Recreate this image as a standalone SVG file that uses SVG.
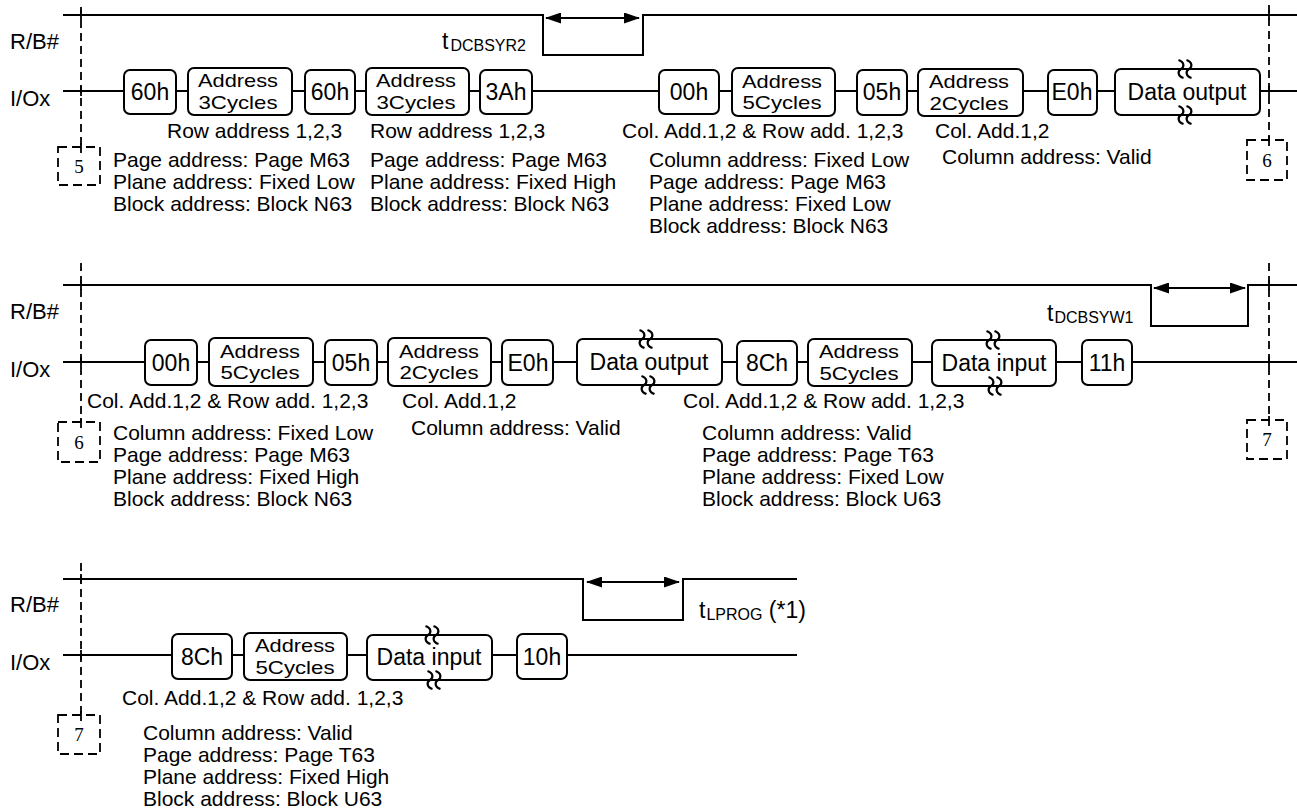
<svg xmlns="http://www.w3.org/2000/svg" xmlns:xlink="http://www.w3.org/1999/xlink" width="1297" height="812" viewBox="0 0 1297 812">
<style>
.ln{stroke:#000;stroke-width:2;fill:none}
.bx{fill:#fff;stroke:#000;stroke-width:2}
.dash{stroke:#000;stroke-width:1.8;stroke-dasharray:8 5;fill:none}
.tick{stroke:#000;stroke-width:1.8}
.dbox{fill:none;stroke:#000;stroke-width:1.8;stroke-dasharray:9 5}
text{font-family:"Liberation Sans",Arial,sans-serif;fill:#000}
.d{font-size:21px}
.b{font-size:23px;text-anchor:middle}
.b2{font-size:19px;text-anchor:middle}
.lab{font-size:22px}
.num{font-family:"Liberation Serif","Times New Roman",serif;font-size:19px;text-anchor:middle}
.sub{font-size:16px}
.big{font-size:23px}
.arr{stroke:#000;stroke-width:2.2;fill:none;marker-start:url(#ah);marker-end:url(#ah)}
</style>
<defs>
<marker id="ah" viewBox="0 0 16 11" refX="15" refY="5.5" markerWidth="16" markerHeight="11" orient="auto-start-reverse" markerUnits="userSpaceOnUse"><path d="M0,0 L16,5.5 L0,11 z" fill="#000"/></marker>
<path id="brk" d="M-6.5,-9 C-0.5,-7 -0.5,-2 -4,0 C-7.5,2 -7.5,7 -1.5,9 M1.5,-9 C7.5,-7 7.5,-2 4,0 C0.5,2 0.5,7 6.5,9" fill="none" stroke="#000" stroke-width="2.2"/>
</defs>

<!-- signal labels -->
<g id="labels">
<text class="lab" x="10" y="49">R/B#</text>
<text class="lab" x="10" y="106">I/Ox</text>
<text class="lab" x="10" y="319">R/B#</text>
<text class="lab" x="10" y="377">I/Ox</text>
<text class="lab" x="10" y="612">R/B#</text>
<text class="lab" x="10" y="670">I/Ox</text>
</g>

<!-- connectors / waveforms -->
<g id="connectors">
<path class="ln" d="M63,15 H543 V55 H643 V15 H1297"/>
<path class="ln" d="M63,91 H1297"/>
<path class="arr" d="M546,18 H639"/>
<path class="ln" d="M63,285 H1151 V326 H1248 V285 H1297"/>
<path class="ln" d="M63,362 H1297"/>
<path class="arr" d="M1154,288 H1245"/>
<path class="ln" d="M63,579 H583 V620 H683 V579 H797"/>
<path class="ln" d="M63,655 H797"/>
<path class="arr" d="M587,582 H679"/>
<!-- dashed markers -->
<path class="dash" d="M81,7 V147"/>
<path class="dash" d="M1269,5 V140"/>
<path class="dash" d="M81,263 V422"/>
<path class="dash" d="M1269,263 V420"/>
<path class="dash" d="M81,563 V715"/>
<path class="tick" d="M81,10 V20 M81,86 V96 M81,143 V153 M1269,10 V20 M1269,86 V96 M1269,136 V146 M81,280 V290 M81,357 V367 M81,418 V428 M1269,280 V290 M1269,357 V367 M1269,416 V426 M81,574 V584 M81,650 V660 M81,711 V721"/>
</g>

<g id="timing-labels">
<text class="big" x="442" y="49">t<tspan class="sub" dx="2" dy="2">DCBSYR2</tspan></text>
<text class="big" x="1047" y="321">t<tspan class="sub" dx="1" dy="2">DCBSYW1</tspan></text>
<text class="big" x="699" y="618">t<tspan class="sub" dx="1" dy="2">LPROG</tspan><tspan dy="-2"> (*1)</tspan></text>
</g>

<!-- off-page connectors -->
<g id="ref5"><rect class="dbox" x="58" y="147" width="42" height="38"/><text class="num" x="79" y="173">5</text></g>
<g id="ref6a"><rect class="dbox" x="1247" y="140" width="40" height="40"/><text class="num" x="1267" y="167">6</text></g>
<g id="ref6b"><rect class="dbox" x="58" y="422" width="42" height="40"/><text class="num" x="79" y="449">6</text></g>
<g id="ref7a"><rect class="dbox" x="1247" y="420" width="40" height="39"/><text class="num" x="1267" y="446">7</text></g>
<g id="ref7b"><rect class="dbox" x="58" y="715" width="42" height="39"/><text class="num" x="79" y="741">7</text></g>

<!-- Row 1 -->
<g id="r1-60h-a"><rect class="bx" x="124" y="70" width="52" height="44" rx="6"/><text class="b" x="150" y="100">60h</text></g>
<g id="r1-addr3-a"><rect class="bx" x="188" y="68" width="104" height="47" rx="6"/><text class="b2" x="238" y="87" textLength="80" lengthAdjust="spacingAndGlyphs">Address</text><text class="b2" x="238" y="108.5" textLength="79" lengthAdjust="spacingAndGlyphs">3Cycles</text></g>
<g id="r1-60h-b"><rect class="bx" x="305" y="70" width="50" height="44" rx="6"/><text class="b" x="330" y="100">60h</text></g>
<g id="r1-addr3-b"><rect class="bx" x="366" y="68" width="103" height="47" rx="6"/><text class="b2" x="416" y="87" textLength="80" lengthAdjust="spacingAndGlyphs">Address</text><text class="b2" x="416" y="108.5" textLength="79" lengthAdjust="spacingAndGlyphs">3Cycles</text></g>
<g id="r1-3Ah"><rect class="bx" x="480" y="70" width="52" height="44" rx="6"/><text class="b" x="506" y="100">3Ah</text></g>
<g id="r1-00h"><rect class="bx" x="659" y="70" width="60" height="44" rx="6"/><text class="b" x="689" y="100">00h</text></g>
<g id="r1-addr5"><rect class="bx" x="732" y="68" width="103" height="48" rx="6"/><text class="b2" x="782" y="87.5" textLength="80" lengthAdjust="spacingAndGlyphs">Address</text><text class="b2" x="782" y="109" textLength="79" lengthAdjust="spacingAndGlyphs">5Cycles</text></g>
<g id="r1-05h"><rect class="bx" x="857" y="70" width="50" height="45" rx="6"/><text class="b" x="882" y="100">05h</text></g>
<g id="r1-addr2"><rect class="bx" x="918" y="69" width="105" height="47" rx="6"/><text class="b2" x="969" y="88" textLength="80" lengthAdjust="spacingAndGlyphs">Address</text><text class="b2" x="969" y="109.5" textLength="79" lengthAdjust="spacingAndGlyphs">2Cycles</text></g>
<g id="r1-E0h"><rect class="bx" x="1048" y="70" width="49" height="45" rx="6"/><text class="b" x="1072" y="100">E0h</text></g>
<g id="r1-dout"><rect class="bx" x="1115" y="69" width="145" height="46" rx="6"/><text class="b" x="1187" y="100">Data output</text><use xlink:href="#brk" x="1185" y="69"/><use xlink:href="#brk" x="1185" y="115"/></g>

<g id="r1-text">
<text class="d" x="167" y="138">Row address 1,2,3</text>
<text class="d" x="370" y="138">Row address 1,2,3</text>
<text class="d" x="622" y="138">Col. Add.1,2 &amp; Row add. 1,2,3</text>
<text class="d" x="935" y="138">Col. Add.1,2</text>
<text class="d" x="942" y="164">Column address: Valid</text>
<text class="d" x="113" y="167">Page address: Page M63</text>
<text class="d" x="113" y="189">Plane address: Fixed Low</text>
<text class="d" x="113" y="211">Block address: Block N63</text>
<text class="d" x="370" y="167">Page address: Page M63</text>
<text class="d" x="370" y="189">Plane address: Fixed High</text>
<text class="d" x="370" y="211">Block address: Block N63</text>
<text class="d" x="649" y="167">Column address: Fixed Low</text>
<text class="d" x="649" y="189">Page address: Page M63</text>
<text class="d" x="649" y="211">Plane address: Fixed Low</text>
<text class="d" x="649" y="233">Block address: Block N63</text>
</g>

<!-- Row 2 -->
<g id="r2-00h"><rect class="bx" x="145" y="340" width="52" height="45" rx="6"/><text class="b" x="171" y="371">00h</text></g>
<g id="r2-addr5"><rect class="bx" x="209" y="338" width="104" height="48" rx="6"/><text class="b2" x="260" y="357.5" textLength="80" lengthAdjust="spacingAndGlyphs">Address</text><text class="b2" x="260" y="379" textLength="79" lengthAdjust="spacingAndGlyphs">5Cycles</text></g>
<g id="r2-05h"><rect class="bx" x="325" y="340" width="52" height="45" rx="6"/><text class="b" x="351" y="371">05h</text></g>
<g id="r2-addr2"><rect class="bx" x="388" y="338" width="103" height="48" rx="6"/><text class="b2" x="439" y="357.5" textLength="80" lengthAdjust="spacingAndGlyphs">Address</text><text class="b2" x="439" y="379" textLength="79" lengthAdjust="spacingAndGlyphs">2Cycles</text></g>
<g id="r2-E0h"><rect class="bx" x="502" y="340" width="51" height="45" rx="6"/><text class="b" x="528" y="371">E0h</text></g>
<g id="r2-dout"><rect class="bx" x="577" y="339" width="145" height="46" rx="6"/><text class="b" x="649" y="370">Data output</text><use xlink:href="#brk" x="646" y="339"/><use xlink:href="#brk" x="648" y="385"/></g>
<g id="r2-8Ch"><rect class="bx" x="737" y="341" width="60" height="44" rx="6"/><text class="b" x="767" y="371">8Ch</text></g>
<g id="r2-addr5b"><rect class="bx" x="808" y="339" width="104" height="47" rx="6"/><text class="b2" x="859" y="358" textLength="80" lengthAdjust="spacingAndGlyphs">Address</text><text class="b2" x="859" y="379.5" textLength="79" lengthAdjust="spacingAndGlyphs">5Cycles</text></g>
<g id="r2-din"><rect class="bx" x="932" y="340" width="124" height="46" rx="6"/><text class="b" x="994" y="371">Data input</text><use xlink:href="#brk" x="993" y="340"/><use xlink:href="#brk" x="995" y="386"/></g>
<g id="r2-11h"><rect class="bx" x="1082" y="340" width="50" height="45" rx="6"/><text class="b" x="1107" y="371">11h</text></g>

<g id="r2-text">
<text class="d" x="87" y="408">Col. Add.1,2 &amp; Row add. 1,2,3</text>
<text class="d" x="402" y="408">Col. Add.1,2</text>
<text class="d" x="411" y="435">Column address: Valid</text>
<text class="d" x="683" y="408">Col. Add.1,2 &amp; Row add. 1,2,3</text>
<text class="d" x="113" y="440">Column address: Fixed Low</text>
<text class="d" x="113" y="462">Page address: Page M63</text>
<text class="d" x="113" y="484">Plane address: Fixed High</text>
<text class="d" x="113" y="506">Block address: Block N63</text>
<text class="d" x="702" y="440">Column address: Valid</text>
<text class="d" x="702" y="462">Page address: Page T63</text>
<text class="d" x="702" y="484">Plane address: Fixed Low</text>
<text class="d" x="702" y="506">Block address: Block U63</text>
</g>

<!-- Row 3 -->
<g id="r3-8Ch"><rect class="bx" x="172" y="634" width="60" height="45" rx="6"/><text class="b" x="202" y="665">8Ch</text></g>
<g id="r3-addr5"><rect class="bx" x="244" y="633" width="103" height="47" rx="6"/><text class="b2" x="295" y="652" textLength="80" lengthAdjust="spacingAndGlyphs">Address</text><text class="b2" x="295" y="673.5" textLength="79" lengthAdjust="spacingAndGlyphs">5Cycles</text></g>
<g id="r3-din"><rect class="bx" x="367" y="635" width="125" height="45" rx="6"/><text class="b" x="429" y="665">Data input</text><use xlink:href="#brk" x="432" y="635"/><use xlink:href="#brk" x="434" y="680"/></g>
<g id="r3-10h"><rect class="bx" x="517" y="634" width="50" height="45" rx="6"/><text class="b" x="542" y="665">10h</text></g>

<g id="r3-text">
<text class="d" x="122" y="705">Col. Add.1,2 &amp; Row add. 1,2,3</text>
<text class="d" x="143" y="740">Column address: Valid</text>
<text class="d" x="143" y="762">Page address: Page T63</text>
<text class="d" x="143" y="784">Plane address: Fixed High</text>
<text class="d" x="143" y="806">Block address: Block U63</text>
</g>
</svg>
